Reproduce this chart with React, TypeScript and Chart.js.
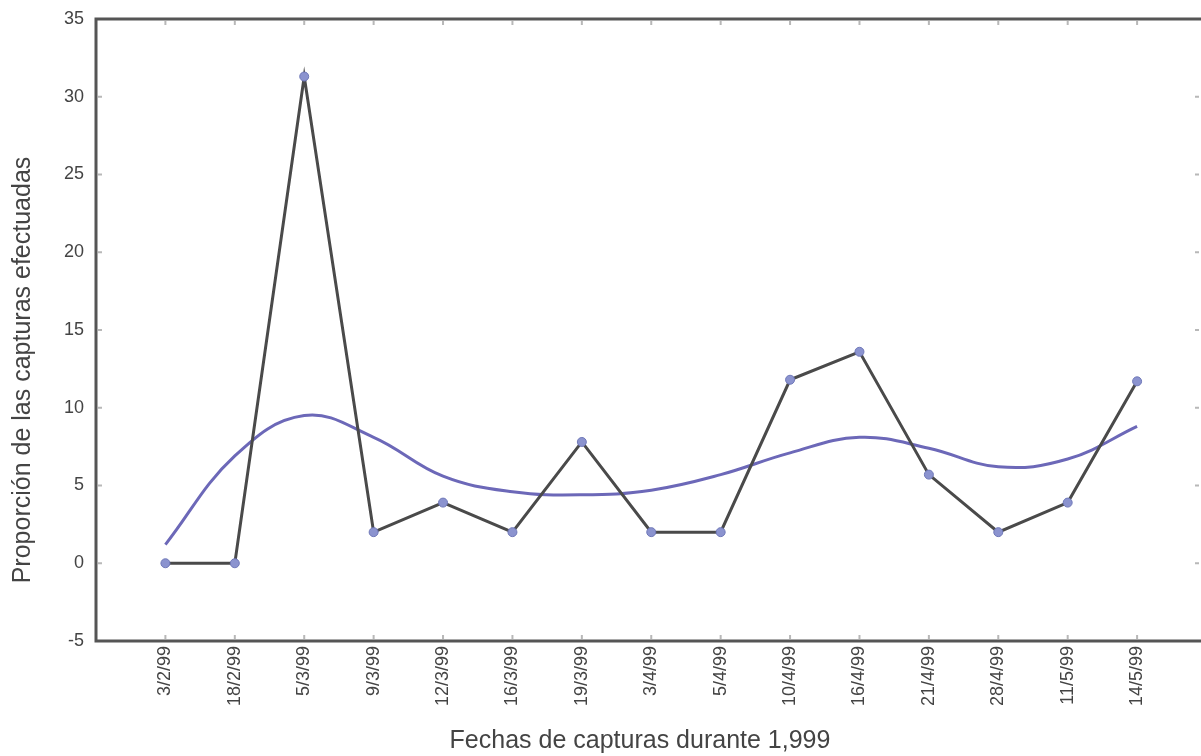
import React, { useEffect, useRef } from 'react';
import { Chart, registerables } from 'chart.js';

Chart.register(...registerables);

const dates = [
  '3/2/99', '18/2/99', '5/3/99', '9/3/99', '12/3/99', '16/3/99', '19/3/99', '3/4/99',
  '5/4/99', '10/4/99', '16/4/99', '21/4/99', '28/4/99', '11/5/99', '14/5/99',
];
const captures = [0, 0, 31.3, 2, 3.9, 2, 7.8, 2, 2, 11.8, 13.6, 5.7, 2, 3.9, 11.7];
const trend = [1.2, 6.9, 9.5, 8.1, 5.6, 4.6, 4.4, 4.7, 5.7, 7.1, 8.1, 7.4, 6.2, 6.7, 8.8];
const yMin = -5;
const yMax = 35;
const yStep = 5;
const xTitle = 'Fechas de capturas durante 1,999';
const yTitle = 'Proporción de las capturas efectuadas';

const FONT = "'Liberation Sans', Arial, sans-serif";

export default function App() {
  const ref = useRef<HTMLCanvasElement | null>(null);

  useEffect(() => {
    if (!ref.current) return;
    const labels = ['', ...dates, ''];
    const capData = [null, ...captures, null];
    const trendData = [null, ...trend, null];

    const framePlugin = {
      id: 'frame',
      afterDatasetsDraw(chart: any) {
        const { ctx, chartArea } = chart;
        const { left, right, top, bottom } = chartArea;
        const xs = chart.scales.x;
        const ys = chart.scales.y;
        ctx.save();
        ctx.strokeStyle = '#b8b8b8';
        ctx.lineWidth = 2;
        for (let i = 1; i <= dates.length; i++) {
          const x = xs.getPixelForValue(i);
          ctx.beginPath();
          ctx.moveTo(x, bottom - 6);
          ctx.lineTo(x, bottom - 2);
          ctx.moveTo(x, top + 2);
          ctx.lineTo(x, top + 6);
          ctx.stroke();
        }
        for (let v = yMin; v <= yMax; v += yStep) {
          const y = ys.getPixelForValue(v);
          ctx.beginPath();
          ctx.moveTo(left + 2, y);
          ctx.lineTo(left + 6, y);
          ctx.moveTo(1199, y);
          ctx.lineTo(1195, y);
          ctx.stroke();
        }
        ctx.strokeStyle = '#555555';
        ctx.lineWidth = 3;
        ctx.beginPath();
        ctx.moveTo(right, top);
        ctx.lineTo(left, top);
        ctx.lineTo(left, bottom);
        ctx.lineTo(right, bottom);
        ctx.stroke();
        ctx.fillStyle = '#444444';
        ctx.font = `25px ${FONT}`;
        ctx.textAlign = 'center';
        ctx.textBaseline = 'middle';
        ctx.fillText(xTitle, 640, 741);
        ctx.save();
        ctx.translate(23, 370);
        ctx.rotate(-Math.PI / 2);
        ctx.fillText(yTitle, 0, 0);
        ctx.restore();
        ctx.restore();
      },
    };

    const chart = new Chart(ref.current, {
      type: 'line',
      data: {
        labels,
        datasets: [
          {
            label: 'Capturas',
            data: capData,
            borderColor: '#4a4a4a',
            borderWidth: 3,
            pointRadius: 4.5,
            pointBackgroundColor: '#8b93cf',
            pointBorderColor: '#6f78b8',
            pointBorderWidth: 1,
            tension: 0,
            order: 0,
          },
          {
            label: 'Tendencia',
            data: trendData,
            borderColor: '#6c68b8',
            borderWidth: 3,
            pointRadius: 0,
            tension: 0.4,
            order: 1,
          },
        ],
      },
      options: {
        animation: false,
        responsive: false,
        maintainAspectRatio: false,
        layout: { padding: { top: 19, left: 0, right: 0, bottom: 0 } },
        plugins: {
          legend: { display: false },
          tooltip: { enabled: false },
          title: { display: false },
        },
        scales: {
          x: {
            type: 'category',
            offset: false,
            grid: { display: false, drawTicks: false },
            border: { display: false },
            ticks: {
              autoSkip: false,
              minRotation: 90,
              maxRotation: 90,
              padding: 5,
              color: '#444444',
              font: { family: FONT, size: 18 },
            },
            afterFit(scale: any) {
              scale.height = 115;
              scale.paddingLeft = 0;
              scale.paddingRight = 0;
            },
          },
          y: {
            min: yMin,
            max: yMax,
            grid: { display: false, drawTicks: false },
            border: { display: false },
            ticks: {
              stepSize: yStep,
              padding: 12,
              color: '#444444',
              font: { family: FONT, size: 18 },
            },
            afterFit(scale: any) {
              scale.width = 96;
              scale.paddingTop = 0;
              scale.paddingBottom = 0;
            },
          },
        },
      },
      plugins: [framePlugin],
    });
    return () => chart.destroy();
  }, []);

  return (
    <div
      style={{
        position: 'absolute',
        left: 0,
        top: 0,
        width: 1201,
        height: 756,
        overflow: 'hidden',
        background: '#ffffff',
      }}
    >
      <canvas ref={ref} width={1212} height={756} style={{ display: 'block' }} />
    </div>
  );
}
